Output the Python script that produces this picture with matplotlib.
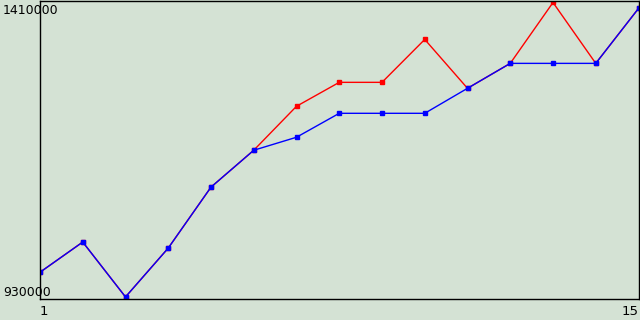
import matplotlib
matplotlib.use("Agg")
import matplotlib.pyplot as plt
import matplotlib.transforms as mtransforms

# data
x = list(range(1, 16))
blue_vals = [973000, 1021600, 933300, 1011900, 1109900, 1169200, 1190100, 1228600,
             1228600, 1228600, 1268800, 1308900, 1308900, 1308900, 1397200]
red_vals = [973000, 1021600, 933300, 1011900, 1109900, 1169200, 1239900, 1278400,
            1278400, 1347400, 1268800, 1308900, 1406800, 1308900, 1397200]
y_min, y_max = 930000, 1410000
x_labels = ["1", "15"]

bg = "#d4e2d4"

fig = plt.figure(figsize=(6.4, 3.2), dpi=100, facecolor=bg)
ax = fig.add_axes([40 / 640, 21 / 320, 598.5 / 640, 298.5 / 320], facecolor=bg)

# red series under the blue one, blue drawn on top
ax.plot(x, red_vals, color="#ff0000", lw=1, marker="s", ms=2.5, mec="#ff0000", mfc="#ff0000")
ax.plot(x, blue_vals, color="#0000ff", lw=1, marker="s", ms=2.5, mec="#0000ff", mfc="#0000ff")

ax.set_xlim(1, 15)
ax.set_ylim(y_min, y_max)
ax.set_xticks([])
ax.set_yticks([])
for s in ax.spines.values():
    s.set_color("black")
    s.set_linewidth(1.0)

# axis labels drawn as plain text like the original
trans = mtransforms.blended_transform_factory(fig.transFigure, ax.transData)
top_off = mtransforms.offset_copy(trans, fig=fig, x=0, y=-4, units="dots")
ax.text(3 / 640, y_max, f"{y_max}", transform=top_off, ha="left", va="top",
        fontsize=9, color="black")
ax.text(3 / 640, y_min, f"{y_min}", transform=trans, ha="left", va="bottom",
        fontsize=9, color="black")

xtrans = mtransforms.blended_transform_factory(ax.transData, fig.transFigure)
ax.text(1, 0.005, x_labels[0], transform=xtrans, ha="left", va="bottom", fontsize=9.5)
ax.text(15, 0.005, x_labels[1], transform=xtrans, ha="right", va="bottom", fontsize=9.5)

fig.savefig("out.png", dpi=100, facecolor=bg)
